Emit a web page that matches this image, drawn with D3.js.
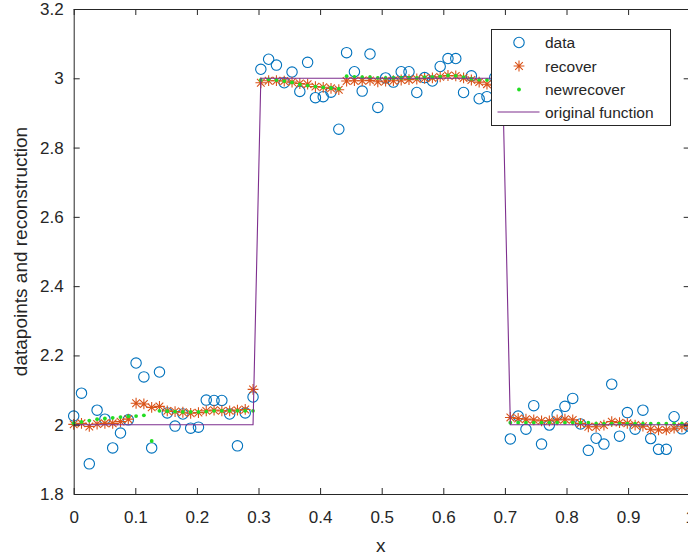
<!DOCTYPE html>
<html><head><meta charset="utf-8">
<script src="https://d3js.org/d3.v7.min.js"></script>
<style>
html,body{margin:0;padding:0;background:#fff;}
svg{display:block;}
text{font-family:"Liberation Sans",Arial,Helvetica,sans-serif;fill:#262626;}
</style></head>
<body><svg id="chart" width="688" height="558"></svg>
<script>
// sample grid: 80 points from 0 to 1
const nPoints = 80;
const dataValues = [2.025,2.091,1.887,2.042,2.016,1.933,1.976,2.014,2.178,2.138,
1.933,2.152,2.034,1.996,2.031,1.990,1.993,2.071,2.070,2.070,
2.031,1.939,2.034,2.080,
3.026,3.055,3.038,2.987,3.018,2.962,3.046,2.944,2.947,2.960,
2.853,3.074,3.019,2.963,3.070,2.916,3.001,2.989,3.019,3.019,
2.959,3.002,2.992,3.034,3.057,3.057,2.959,3.007,2.941,2.947,
3.002,2.980,
1.959,2.025,1.987,2.055,1.944,1.999,2.029,2.053,2.076,2.002,
1.926,1.961,1.944,2.117,1.967,2.035,1.987,2.042,1.960,1.929,
1.929,2.023,1.988,1.995];
const recoverValues = [2.001,2.004,1.995,2.002,2.004,2.004,2.009,2.016,2.062,2.060,2.050,2.053,2.040,2.038,2.036,2.033,2.035,2.040,2.042,2.040,2.040,2.042,2.044,2.102,
2.987,2.993,2.993,2.992,2.989,2.985,2.983,2.976,2.974,2.971,2.967,2.992,2.993,2.993,2.994,2.990,2.992,2.993,2.995,2.996,2.998,3.000,3.001,3.004,3.008,3.007,3.001,2.995,2.989,2.983,2.980,2.978,
2.021,2.018,2.016,2.014,2.011,2.011,2.014,2.016,2.014,2.004,1.994,1.994,1.999,2.009,2.006,2.004,1.999,1.996,1.987,1.985,1.985,1.990,1.994,1.996];
const newRecoverValues = [2.004,2.008,2.012,2.016,2.018,2.020,2.022,2.024,2.025,2.027,1.953,2.040,2.039,2.038,2.037,2.037,2.037,2.038,2.040,2.040,2.040,2.040,2.040,2.040,
2.995,2.997,2.995,2.992,2.988,2.982,2.979,2.976,2.974,2.972,2.970,3.006,3.004,3.003,3.003,3.001,3.001,3.001,3.001,3.001,3.001,3.003,3.003,3.005,3.008,3.007,3.003,2.999,2.996,2.995,2.993,2.992,
2.006,2.006,2.006,2.006,2.006,2.006,2.006,2.006,2.006,2.006,2.006,2.003,2.003,2.003,2.003,2.003,2.003,2.003,2.003,2.003,2.003,2.003,2.003,2.003];
const originalValues = [2,2,2,2,2,2,2,2,2,2,2,2,2,2,2,2,2,2,2,2,2,2,2,2,
3,3,3,3,3,3,3,3,3,3,3,3,3,3,3,3,3,3,3,3,3,3,3,3,3,3,3,3,3,3,3,3,
2,2,2,2,2,2,2,2,2,2,2,2,2,2,2,2,2,2,2,2,2,2,2,2];
const xTicks = [0,0.1,0.2,0.3,0.4,0.5,0.6,0.7,0.8,0.9,1];
const yTicks = [1.8,2,2.2,2.4,2.6,2.8,3,3.2];
const legendLabels = ["data","recover","newrecover","original function"];

const xGrid = d3.range(nPoints).map(i => i/(nPoints-1));

const svg = d3.select("#chart");
const L = 73.7, R = 689.7, T = 9, B = 494;
const x = d3.scaleLinear().domain([0,1]).range([L,R]);
const y = d3.scaleLinear().domain([1.8,3.2]).range([B,T]);
const axisColor = "#262626";

// data circles
svg.append("g").selectAll("circle").data(dataValues).join("circle")
  .attr("cx",(d,i)=>x(xGrid[i])).attr("cy",d=>y(d)).attr("r",5.2)
  .attr("fill","none").attr("stroke","#0072BD").attr("stroke-width",1.1);

// recover asterisks
function star(g, cx, cy, s, color){
  const p = d3.path();
  p.moveTo(cx-s,cy); p.lineTo(cx+s,cy);
  p.moveTo(cx,cy-s); p.lineTo(cx,cy+s);
  const k = s*0.7071;
  p.moveTo(cx-k,cy-k); p.lineTo(cx+k,cy+k);
  p.moveTo(cx-k,cy+k); p.lineTo(cx+k,cy-k);
  g.append("path").attr("d",p.toString()).attr("stroke",color).attr("stroke-width",1.1).attr("fill","none");
}
const gStar = svg.append("g");
recoverValues.forEach((d,i)=>star(gStar, x(xGrid[i]), y(d), 5.4, "#D95319"));

// newrecover dots
svg.append("g").selectAll("circle").data(newRecoverValues).join("circle")
  .attr("cx",(d,i)=>x(xGrid[i])).attr("cy",d=>y(d)).attr("r",1.9)
  .attr("fill","#22dd22");

// original function
svg.append("path").datum(originalValues)
  .attr("d", d3.line().x((d,i)=>x(xGrid[i])).y(d=>y(d)))
  .attr("fill","none").attr("stroke","#7E2F8E").attr("stroke-width",1.1);

// axes
const fs = 17;
const gx = svg.append("g").attr("transform",`translate(0,${B})`)
  .call(d3.axisBottom(x).tickValues(xTicks).tickFormat(d3.format("~g")).tickSizeInner(-6).tickSizeOuter(0).tickPadding(17));
const gy = svg.append("g").attr("transform",`translate(${L},0)`)
  .call(d3.axisLeft(y).tickValues(yTicks).tickFormat(d3.format("~g")).tickSizeInner(-6).tickSizeOuter(0).tickPadding(10));
const gt = svg.append("g").attr("transform",`translate(0,${T})`)
  .call(d3.axisTop(x).tickValues(xTicks).tickFormat("").tickSizeInner(-6).tickSizeOuter(0));
const gr = svg.append("g").attr("transform",`translate(${R},0)`)
  .call(d3.axisRight(y).tickValues(yTicks).tickFormat("").tickSizeInner(-6).tickSizeOuter(0));
[gx,gy,gt,gr].forEach(g=>{
  g.selectAll("path").attr("stroke",axisColor).attr("stroke-width",1);
  g.selectAll("line").attr("stroke",axisColor).attr("stroke-width",1);
  g.selectAll("text").attr("font-size",fs).attr("fill",axisColor).style("font-family",'"Liberation Sans",Arial,sans-serif');
});
gx.selectAll("text").attr("dy","0.71em");

// axis labels
svg.append("text").attr("x",(L+R)/2 - 1).attr("y",545).attr("text-anchor","middle")
  .attr("dominant-baseline","central").attr("font-size",19).text("x");
svg.append("text").attr("transform",`translate(20,${(T+B)/2}) rotate(-90)`)
  .attr("text-anchor","middle").attr("dominant-baseline","central").attr("font-size",19)
  .text("datapoints and reconstruction");

// legend
const lg = svg.append("g");
lg.append("rect").attr("x",491.5).attr("y",29.5).attr("width",179).attr("height",96)
  .attr("fill","#fff").attr("stroke",axisColor).attr("stroke-width",1);
const rowY = [42.5, 66, 89.5, 112];
const mx = 519;
lg.append("circle").attr("cx",mx).attr("cy",rowY[0]).attr("r",5.2).attr("fill","none").attr("stroke","#0072BD").attr("stroke-width",1.1);
star(lg, mx, rowY[1], 5.4, "#D95319");
lg.append("circle").attr("cx",mx).attr("cy",rowY[2]).attr("r",1.9).attr("fill","#22dd22");
lg.append("line").attr("x1",497.5).attr("x2",539.5).attr("y1",rowY[3]).attr("y2",rowY[3]).attr("stroke","#7E2F8E").attr("stroke-width",1.1);
legendLabels.forEach((t,i)=>{
  lg.append("text").attr("x",545).attr("y",rowY[i]).attr("dominant-baseline","central")
    .attr("font-size",15.5).text(t);
});
</script></body></html>
